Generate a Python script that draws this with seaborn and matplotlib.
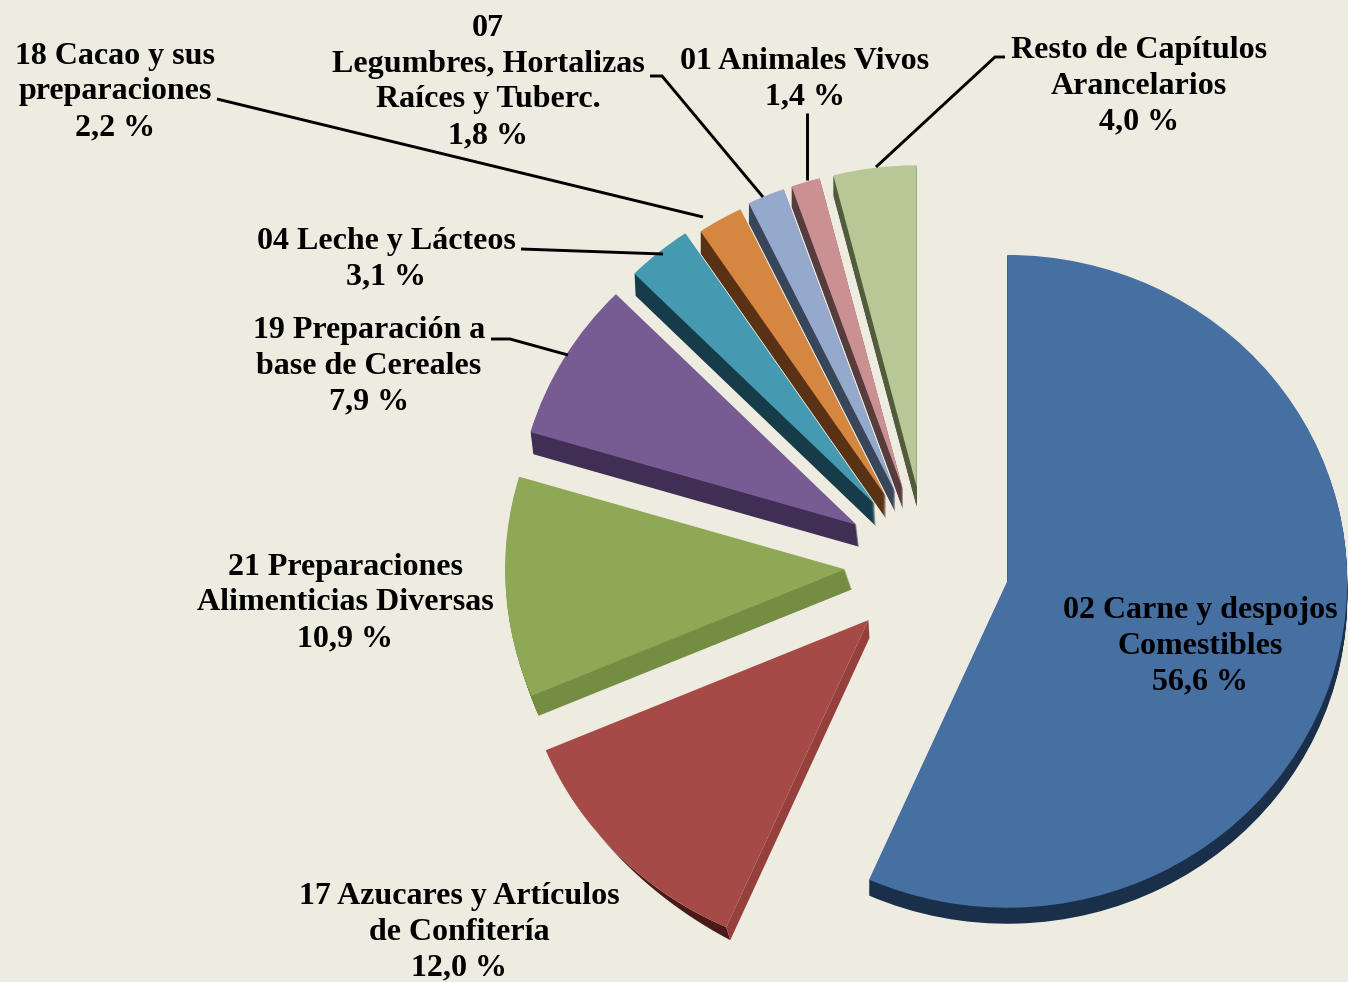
#!/usr/bin/env python3
import numpy as np
import matplotlib
matplotlib.use('Agg')
import matplotlib.pyplot as plt
import seaborn as sns

W, H = 1348, 982
SQUASH = 0.96  # the pie is a bit flatter than a circle

categories = ['02 Carne y despojos\nComestibles',
              '17 Azucares y Artículos\nde Confitería',
              '21 Preparaciones\nAlimenticias Diversas',
              '19 Preparación a\nbase de Cereales',
              '04 Leche y Lácteos',
              '18 Cacao y sus\npreparaciones',
              '07\nLegumbres, Hortalizas\nRaíces y Tuberc.',
              '01 Animales Vivos',
              'Resto de Capítulos\nArancelarios']
values = [56.6, 12.0, 10.9, 7.9, 3.1, 2.2, 1.8, 1.4, 4.0]

top_colors = ['#466fa2', '#a64a48', '#8fa855', '#775b93', '#4599b0',
              '#d58640', '#94a9cc', '#cb9192', '#b7c795']
side_colors = ['#1a2f4a', None, '#748d42', '#402e54', '#173c49',
               '#593215', '#394559', '#563c3d', '#515c3c']
# perspective makes the near slices look larger
slice_radius = [340, 350, 340, 340, 340, 333, 335, 335, 335]
# how far each slice drops, and how far it leans right per pixel of drop
side_depth = [16, 0, 20, 22, 22, 22, 20, 20, 20]
side_lean = [0, 0, 0.35, 0.12, 0.05, 0, 0, 0, 0]
RED_CUT = '#96403e'
RED_RIM = '#4a1a18'

# label centres and leader lines, in picture pixels
label_pos = [(1200, 646), (459, 932), (345, 603), (369, 366), (386, 259),
             (115, 92), (488, 82), (805, 79), (1139, 86)]
leaders = [[(217, 99), (703, 217)],
           [(650, 76), (662, 76), (763, 197)],
           [(807, 113), (807, 180)],
           [(1005, 57), (995, 57), (876, 167)],
           [(521, 249), (663, 254)],
           [(491, 339), (510, 339), (568, 355)]]

PIE_X, PIE_Y = 927, 565
RADIUS = 340
EXPLODE = 82  # pie() takes this in data units
BG = '#eeece1'


def py(y):
    return (H - y) / SQUASH


sns.set_theme(style='white')
plt.rcParams['font.family'] = ['Liberation Serif', 'DejaVu Serif']

fig = plt.figure(figsize=(W / 100, H / 100), dpi=100, facecolor=BG)
ax = fig.add_axes([0, 0, 1, 1], facecolor=BG)


def draw_pie(colors, dx=0, dy=0):
    wedges, _ = ax.pie(values, colors=colors, startangle=90, counterclock=False,
                       radius=RADIUS, explode=[EXPLODE] * len(values),
                       center=(PIE_X + dx, py(PIE_Y + dy)), normalize=True,
                       wedgeprops={'linewidth': 0})
    for wedge, r in zip(wedges, slice_radius):
        wedge.set_radius(r)
    return wedges


# extrude every slice on its own
for i, col in enumerate(side_colors):
    if col is None:
        continue
    colors = ['none'] * len(values)
    colors[i] = col
    for d in range(side_depth[i], 0, -1):
        draw_pie(colors, dx=side_lean[i] * d, dy=d)

top = draw_pie(top_colors)

# red slice: rim tapers towards its left end, cut face is lighter
red = top[1]
cx, cy = red.center
t = np.radians(np.linspace(red.theta1, red.theta2, 80))
frac = np.linspace(0, 1, 80)
arc_x = cx + red.r * np.cos(t)
arc_y = cy + red.r * np.sin(t)
rim_x = np.r_[arc_x, (arc_x + 4 * frac)[::-1]]
rim_y = np.r_[arc_y, (arc_y - 13 * frac ** 2 / SQUASH)[::-1]]
ax.fill(rim_x, rim_y, color=RED_RIM, lw=0, zorder=0.9)
ax.fill([cx, arc_x[-1], arc_x[-1] + 4, cx + 1],
        [cy, arc_y[-1], arc_y[-1] - 13 / SQUASH, cy - 18 / SQUASH],
        color=RED_CUT, lw=0, zorder=0.9)

ax.set_aspect('auto')
ax.set_xlim(0, W)
ax.set_ylim(0, H / SQUASH)
ax.axis('off')

for line in leaders:
    ax.plot([p[0] for p in line], [py(p[1]) for p in line], color='black',
            lw=2.1, solid_capstyle='butt', solid_joinstyle='miter', zorder=5)

for cat, val, pos in zip(categories, values, label_pos):
    txt = cat + '\n' + f'{val:.1f}'.replace('.', ',') + ' %'
    ax.text(pos[0], py(pos[1]), txt, ha='center', va='center', fontsize=23,
            fontweight='bold', color='black', linespacing=1.31,
            multialignment='center', zorder=6)

fig.savefig('out.png', dpi=100, facecolor=BG)
